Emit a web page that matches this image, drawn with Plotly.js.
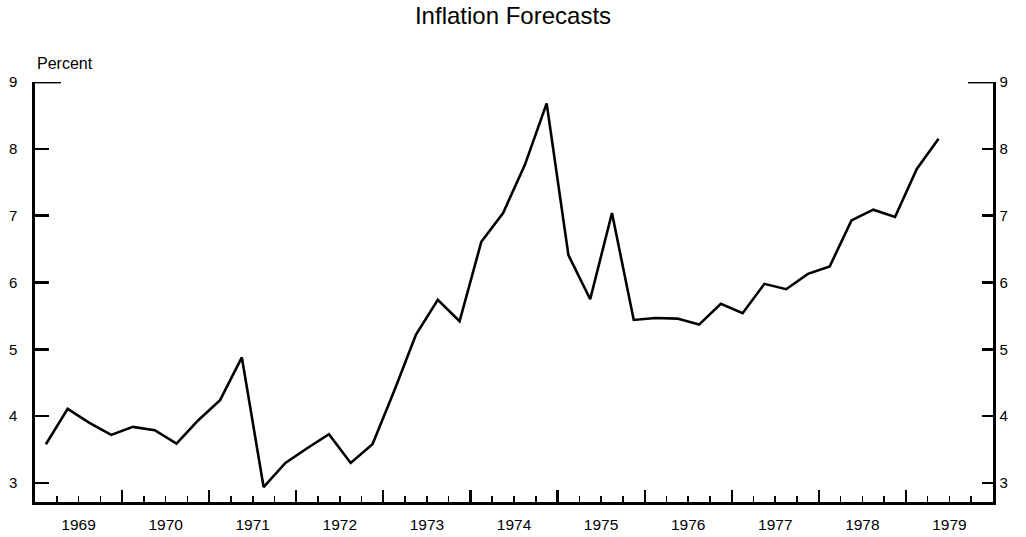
<!DOCTYPE html>
<html>
<head>
<meta charset="utf-8">
<script src="https://cdn.plot.ly/plotly-3.0.1.min.js"></script>
<style>
html,body{margin:0;padding:0;background:#fff;}
#chart{width:1026px;height:537px;}
</style>
</head>
<body>
<div id="chart"></div>
<script>
// Quarterly observations, 1969Q1 .. 1979Q2
var quarters = [
  "1969Q1","1969Q2","1969Q3","1969Q4",
  "1970Q1","1970Q2","1970Q3","1970Q4",
  "1971Q1","1971Q2","1971Q3","1971Q4",
  "1972Q1","1972Q2","1972Q3","1972Q4",
  "1973Q1","1973Q2","1973Q3","1973Q4",
  "1974Q1","1974Q2","1974Q3","1974Q4",
  "1975Q1","1975Q2","1975Q3","1975Q4",
  "1976Q1","1976Q2","1976Q3","1976Q4",
  "1977Q1","1977Q2","1977Q3","1977Q4",
  "1978Q1","1978Q2","1978Q3","1978Q4",
  "1979Q1","1979Q2"
];
var inflation = [
  3.58, 4.11, 3.90, 3.72,
  3.84, 3.79, 3.59, 3.94,
  4.24, 4.88, 2.94, 3.30,
  3.52, 3.73, 3.30, 3.58,
  4.38, 5.22, 5.74, 5.42,
  6.61, 7.04, 7.76, 8.68,
  6.41, 5.75, 7.04, 5.44,
  5.47, 5.46, 5.37, 5.68,
  5.54, 5.98, 5.90, 6.13,
  6.24, 6.93, 7.09, 6.98,
  7.70, 8.15
];
var yearLabels = ["1969","1970","1971","1972","1973","1974","1975","1976","1977","1978","1979"];
var yTicks = [3, 4, 5, 6, 7, 8, 9];

// quarter label -> decimal year at the middle of the quarter
function qPos(q) {
  var yr = parseInt(q.slice(0, 4), 10);
  var n = parseInt(q.slice(5), 10);
  return yr + (n - 1) * 0.25 + 0.125;
}
var xs = quarters.map(qPos);
var labelPos = yearLabels.map(function (y) { return parseInt(y, 10) + 0.5; });

var XR = [1969, 1980];
var YR = [2.716, 9.0];
var FONT = "Liberation Sans, Arial, Helvetica, sans-serif";

var traces = [
  {
    x: xs, y: inflation, type: "scatter", mode: "lines",
    line: {color: "#000", width: 2.6},
    xaxis: "x", yaxis: "y", hoverinfo: "x+y", showlegend: false
  },
  {x: [XR[0]], y: [YR[0]], type: "scatter", mode: "lines", xaxis: "x2", yaxis: "y", showlegend: false, hoverinfo: "skip"},
  {x: [XR[0]], y: [YR[0]], type: "scatter", mode: "lines", xaxis: "x", yaxis: "y2", showlegend: false, hoverinfo: "skip"}
];

var layout = {
  width: 1026, height: 537,
  margin: {l: 35, r: 33, t: 82, b: 35, pad: 0},
  paper_bgcolor: "#fff", plot_bgcolor: "#fff",
  font: {family: FONT, color: "#000", size: 15},
  title: {
    text: "Inflation Forecasts",
    font: {family: FONT, size: 24, color: "#000"},
    x: 0.5, xref: "container", xanchor: "center",
    y: 1 - 16 / 537, yref: "container", yanchor: "middle"
  },
  showlegend: false,
  // labels axis (year names centred within each year)
  xaxis: {
    range: XR, fixedrange: true,
    tickmode: "array", tickvals: labelPos, ticktext: yearLabels,
    ticks: "", showgrid: false, zeroline: false,
    showline: true, linecolor: "#000", linewidth: 2.6,
    tickfont: {family: FONT, size: 15.5, color: "#000"},
    ticklabelstandoff: 7
  },
  // tick-mark axis (year boundaries and quarters)
  xaxis2: {
    range: XR, overlaying: "x", side: "bottom", anchor: "y",
    tickmode: "linear", tick0: 1969, dtick: 1,
    ticks: "inside", ticklen: 12, tickwidth: 2.2, tickcolor: "#000",
    showticklabels: false, showgrid: false, zeroline: false, showline: false,
    minor: {tickmode: "linear", tick0: 1969, dtick: 0.25, ticks: "inside", ticklen: 6, tickwidth: 1.6, tickcolor: "#000", showgrid: false}
  },
  yaxis: {
    range: YR, fixedrange: true,
    tickmode: "array", tickvals: yTicks, ticktext: yTicks.map(String),
    ticks: "inside", ticklen: 14, tickwidth: 2.4, tickcolor: "#000",
    showgrid: false, zeroline: false,
    showline: true, linecolor: "#000", linewidth: 2.6,
    tickfont: {family: FONT, size: 15, color: "#000"},
    ticklabelstandoff: 12
  },
  yaxis2: {
    range: YR, overlaying: "y", side: "right", anchor: "x",
    tickmode: "array", tickvals: yTicks, ticktext: yTicks.map(String),
    ticks: "inside", ticklen: 11, tickwidth: 2.4, tickcolor: "#000",
    showgrid: false, zeroline: false,
    showline: true, linecolor: "#000", linewidth: 2.6,
    tickfont: {family: FONT, size: 15, color: "#000"},
    ticklabelstandoff: 1
  },
  shapes: [
    // long cap ticks at the top of both vertical axes
    {type: "line", xref: "x", yref: "y", xsizemode: "pixel", xanchor: XR[0],
     x0: 0, x1: 26, y0: YR[1], y1: YR[1], line: {color: "#000", width: 2.8}},
    {type: "line", xref: "x", yref: "y", xsizemode: "pixel", xanchor: XR[1],
     x0: -25, x1: 0, y0: YR[1], y1: YR[1], line: {color: "#000", width: 2.8}}
  ],
  annotations: [
    {
      text: "Percent", xref: "paper", yref: "paper", x: 0, y: 1,
      xanchor: "left", yanchor: "middle", yshift: 19, showarrow: false,
      font: {family: FONT, size: 16, color: "#000"}
    }
  ]
};

Plotly.newPlot("chart", traces, layout, {staticPlot: true, displayModeBar: false});
</script>
</body>
</html>
